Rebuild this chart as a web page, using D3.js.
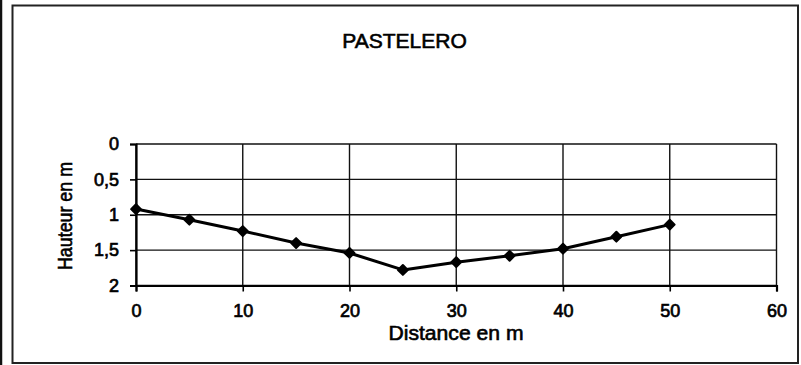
<!DOCTYPE html>
<html>
<head>
<meta charset="utf-8">
<script src="https://cdn.jsdelivr.net/npm/d3@7"></script>
<style>
  html, body { margin: 0; padding: 0; background: #fff; }
  svg { display: block; }
  text { font-family: "Liberation Sans", Arial, sans-serif; fill: #000; }
</style>
</head>
<body>
<svg id="chart" width="801" height="365"></svg>
<script>
// Cross-section profile: depth (m) along the transect distance (m)
const distances = [0, 5, 10, 15, 20, 25, 30, 35, 40, 45, 50];
const depths = [0.92, 1.07, 1.23, 1.40, 1.54, 1.78, 1.67, 1.58, 1.48, 1.31, 1.14];
const xTicks = [0, 10, 20, 30, 40, 50, 60];
const yTicks = [0, 0.5, 1, 1.5, 2];
const titleText = "PASTELERO";
const xLabel = "Distance en m";
const yLabel = "Hauteur en m";

const W = 801, H = 365;
const plot = { left: 136, right: 776.5, top: 144, bottom: 285.5 };

const svg = d3.select("#chart");

// outer frame of the chart sheet
svg.append("line").attr("x1", 1).attr("x2", 1).attr("y1", 0).attr("y2", H)
  .attr("stroke", "#111").attr("stroke-width", 2.5);
svg.append("rect")
  .attr("x", 12.5).attr("y", 5.5).attr("width", 785.5).attr("height", 357.5)
  .attr("fill", "none").attr("stroke", "#222").attr("stroke-width", 2);

const x = d3.scaleLinear().domain([0, 60]).range([plot.left, plot.right]);
const y = d3.scaleLinear().domain([0, 2]).range([plot.top, plot.bottom]);

// gridlines
const grid = svg.append("g").attr("stroke", "#111").attr("stroke-width", 1.4);
grid.selectAll("line.h").data(yTicks).join("line")
  .attr("x1", plot.left).attr("x2", plot.right)
  .attr("y1", d => y(d)).attr("y2", d => y(d));
grid.selectAll("line.v").data(xTicks).join("line")
  .attr("y1", plot.top).attr("y2", plot.bottom)
  .attr("x1", d => x(d)).attr("x2", d => x(d));

// axes
const xAxis = svg.append("g")
  .attr("transform", `translate(0,${plot.bottom})`)
  .call(d3.axisBottom(x).tickValues(xTicks).tickSize(6).tickPadding(13).tickFormat(d3.format("d")));
const yAxis = svg.append("g")
  .attr("transform", `translate(${plot.left},0)`)
  .call(d3.axisLeft(y).tickValues(yTicks).tickSize(6).tickPadding(11)
    .tickFormat(d => String(d).replace(".", ",")));

[xAxis, yAxis].forEach(a => {
  a.select(".domain").attr("stroke", "#000").attr("stroke-width", 2.2);
  a.selectAll(".tick line").attr("stroke", "#000").attr("stroke-width", 1.6);
  a.selectAll(".tick text")
    .style("font-family", '"Liberation Sans", Arial, sans-serif')
    .style("font-size", "18px")
    .attr("stroke", "#000").attr("stroke-width", 0.7)
    .attr("fill", "#000");
});

// profile line and markers
const line = d3.line().x((d, i) => x(distances[i])).y(d => y(d));
svg.append("path").datum(depths)
  .attr("d", line).attr("fill", "none")
  .attr("stroke", "#000").attr("stroke-width", 3).attr("stroke-linejoin", "round");
svg.append("g").selectAll("path").data(depths).join("path")
  .attr("transform", (d, i) => `translate(${x(distances[i])},${y(d)}) rotate(45)`)
  .attr("d", d3.symbol().type(d3.symbolSquare).size(48))
  .attr("fill", "#000").attr("stroke", "#000").attr("stroke-width", 2)
  .attr("stroke-linejoin", "round");

// titles
svg.append("text").attr("x", 404.5).attr("y", 47.5)
  .attr("text-anchor", "middle").style("font-size", "21px")
  .attr("stroke", "#000").attr("stroke-width", 0.6)
  .text(titleText);
svg.append("text").attr("x", 456).attr("y", 340)
  .attr("text-anchor", "middle").style("font-size", "20px")
  .attr("stroke", "#000").attr("stroke-width", 0.6)
  .attr("textLength", 135).attr("lengthAdjust", "spacingAndGlyphs")
  .text(xLabel);
svg.append("text")
  .attr("transform", `translate(72,216) rotate(-90)`)
  .attr("text-anchor", "middle").style("font-size", "20px")
  .attr("stroke", "#000").attr("stroke-width", 0.6)
  .attr("textLength", 108).attr("lengthAdjust", "spacingAndGlyphs")
  .text(yLabel);
</script>
</body>
</html>
